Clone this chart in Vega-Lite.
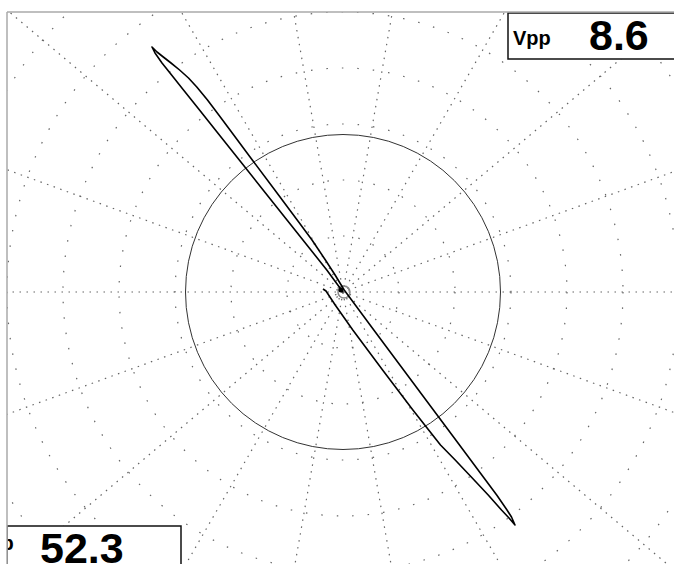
{
  "$schema": "https://vega.github.io/schema/vega-lite/v6.json",
  "width": 667,
  "height": 552,
  "autosize": {"type": "none"},
  "padding": {"left": 7, "top": 12, "right": 0, "bottom": 0},
  "background": "white",
  "config": {"view": {"stroke": null}},
  "datasets": {
    "rings": [
      {"x": 0, "y": 0, "ring": 1}, {"x": 0, "y": 0, "ring": 2}, {"x": 0, "y": 0, "ring": 3}, {"x": 0, "y": 0, "ring": 4},
      {"x": 0, "y": 0, "ring": 5}, {"x": 0, "y": 0, "ring": 6}, {"x": 0, "y": 0, "ring": 7}, {"x": 0, "y": 0, "ring": 8}
    ],
    "spokes": [
      {"x": 700, "y": 0, "x2": -700, "y2": 0},
      {"x": 657.8, "y": 239.4, "x2": -657.8, "y2": -239.4},
      {"x": 536.2, "y": 450.0, "x2": -536.2, "y2": -450.0},
      {"x": 350.0, "y": 606.2, "x2": -350.0, "y2": -606.2},
      {"x": 121.6, "y": 689.4, "x2": -121.6, "y2": -689.4},
      {"x": -121.6, "y": 689.4, "x2": 121.6, "y2": -689.4},
      {"x": -350.0, "y": 606.2, "x2": 350.0, "y2": -606.2},
      {"x": -536.2, "y": 450.0, "x2": 536.2, "y2": -450.0},
      {"x": -657.8, "y": 239.4, "x2": 657.8, "y2": -239.4}
    ],
    "origin": [{"x": 0, "y": 0}],
    "smallring": [{"x": 1, "y": 0}],
    "blob": [{"x": -2, "y": 2}],
    "trace": [
      {"i": 1, "x": 0, "y": 0}, {"i": 2, "x": -3, "y": 4}, {"i": 3, "x": -16.2, "y": 22}, {"i": 4, "x": -32.1, "y": 42},
      {"i": 5, "x": -56, "y": 72}, {"i": 6, "x": -79.9, "y": 102}, {"i": 7, "x": -103.7, "y": 132}, {"i": 8, "x": -127.6, "y": 162},
      {"i": 9, "x": -143.5, "y": 182}, {"i": 10, "x": -159.5, "y": 202}, {"i": 11, "x": -173, "y": 219}, {"i": 12, "x": -181, "y": 229},
      {"i": 13, "x": -188, "y": 239}, {"i": 14, "x": -191, "y": 245}, {"i": 15, "x": -186, "y": 240}, {"i": 16, "x": -179.7, "y": 235},
      {"i": 17, "x": -172, "y": 229}, {"i": 18, "x": -163.4, "y": 222}, {"i": 19, "x": -154.5, "y": 214}, {"i": 20, "x": -146.2, "y": 205},
      {"i": 21, "x": -135.5, "y": 192}, {"i": 22, "x": -124.2, "y": 177}, {"i": 23, "x": -113, "y": 162}, {"i": 24, "x": -90.7, "y": 132},
      {"i": 25, "x": -68.2, "y": 102}, {"i": 26, "x": -45.8, "y": 72}, {"i": 27, "x": -31, "y": 52}, {"i": 28, "x": -17.6, "y": 32},
      {"i": 29, "x": -7.9, "y": 17}, {"i": 30, "x": 1.2, "y": 2}, {"i": 31, "x": 30.8, "y": -38}, {"i": 32, "x": 60.6, "y": -78},
      {"i": 33, "x": 90.4, "y": -118}, {"i": 34, "x": 116.5, "y": -153}, {"i": 35, "x": 140.3, "y": -185}, {"i": 36, "x": 153.7, "y": -203},
      {"i": 37, "x": 164, "y": -218}, {"i": 38, "x": 168.5, "y": -225}, {"i": 39, "x": 172, "y": -233}, {"i": 40, "x": 166, "y": -226},
      {"i": 41, "x": 158.5, "y": -218}, {"i": 42, "x": 145.2, "y": -203}, {"i": 43, "x": 128.3, "y": -185}, {"i": 44, "x": 112.2, "y": -168},
      {"i": 45, "x": 97.5, "y": -153}, {"i": 46, "x": 69.9, "y": -118}, {"i": 47, "x": 39.6, "y": -78}, {"i": 48, "x": 9.8, "y": -38},
      {"i": 49, "x": -7.8, "y": -13}, {"i": 50, "x": -17, "y": 1}, {"i": 51, "x": -20, "y": 3}
    ],
    "boxes": [
      {"x": 165, "x2": 345, "y": 279, "y2": 233},
      {"x": -336, "x2": -162, "y": -234, "y2": -290}
    ],
    "bigtext": [
      {"x": 246, "y": 242, "t": "8.6"},
      {"x": -303, "y": -271, "t": "52.3"}
    ],
    "smalltext": [
      {"x": 170, "y": 247, "t": "Vpp"},
      {"x": -367, "y": -258, "t": "Vpp"}
    ],
    "frame": [
      {"x": -336, "y": 280, "x2": 331, "y2": 280},
      {"x": -336, "y": 280, "x2": -336, "y2": -272}
    ]
  },
  "encoding": {
    "x": {"field": "x", "type": "quantitative", "scale": {"domain": [-336, 331], "nice": false, "zero": false}, "axis": null},
    "y": {"field": "y", "type": "quantitative", "scale": {"domain": [-272, 280], "nice": false, "zero": false}, "axis": null}
  },
  "layer": [
    {
      "data": {"name": "rings"},
      "mark": {"type": "point", "shape": "circle", "filled": false, "stroke": "#666", "strokeWidth": 1.2, "strokeDash": [1.5, 14], "opacity": 1, "clip": true},
      "encoding": {
        "size": {"field": "ring", "type": "quantitative", "scale": {"type": "pow", "exponent": 2, "domain": [0, 8], "range": [0, 802816]}, "legend": null}
      }
    },
    {
      "data": {"name": "spokes"},
      "mark": {"type": "rule", "stroke": "#666", "strokeWidth": 1.2, "strokeDash": [1.5, 5.5], "clip": true},
      "encoding": {
        "x2": {"field": "x2"},
        "y2": {"field": "y2"}
      }
    },
    {
      "data": {"name": "origin"},
      "mark": {"type": "point", "shape": "circle", "filled": false, "size": 99225, "stroke": "#333", "strokeWidth": 1, "opacity": 1, "clip": true},
      "encoding": {}
    },
    {
      "data": {"name": "smallring"},
      "mark": {"type": "point", "shape": "circle", "filled": false, "size": 144, "stroke": "#888", "strokeWidth": 1.5, "opacity": 1, "clip": true},
      "encoding": {}
    },
    {
      "data": {"name": "trace"},
      "mark": {"type": "line", "stroke": "#000", "strokeWidth": 1.6, "strokeJoin": "round", "clip": true},
      "encoding": {"order": {"field": "i", "type": "quantitative"}}
    },
    {
      "data": {"name": "blob"},
      "mark": {"type": "point", "shape": "circle", "filled": true, "size": 25, "color": "#000", "opacity": 1, "clip": true},
      "encoding": {}
    },
    {
      "data": {"name": "boxes"},
      "mark": {"type": "rect", "fill": "white", "stroke": "#111", "strokeWidth": 1.5, "clip": true},
      "encoding": {
        "x2": {"field": "x2"},
        "y2": {"field": "y2"}
      }
    },
    {
      "data": {"name": "bigtext"},
      "mark": {"type": "text", "font": "Liberation Sans", "fontWeight": "bold", "fontSize": 43, "align": "left", "baseline": "alphabetic", "color": "#000", "clip": true},
      "encoding": {"text": {"field": "t"}}
    },
    {
      "data": {"name": "smalltext"},
      "mark": {"type": "text", "font": "Liberation Sans", "fontWeight": "bold", "fontSize": 20, "align": "left", "baseline": "alphabetic", "color": "#000", "clip": true},
      "encoding": {"text": {"field": "t"}}
    },
    {
      "data": {"name": "frame"},
      "mark": {"type": "rule", "stroke": "#aaa", "strokeWidth": 1.5, "clip": false},
      "encoding": {
        "x2": {"field": "x2"},
        "y2": {"field": "y2"}
      }
    }
  ]
}
